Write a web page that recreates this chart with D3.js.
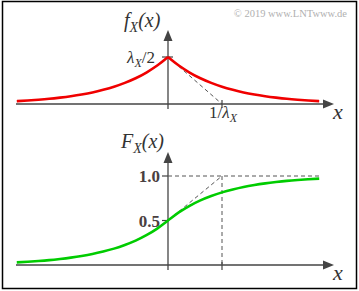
<!DOCTYPE html>
<html>
<head>
<meta charset="utf-8">
<script src="https://cdn.jsdelivr.net/npm/d3@7"></script>
<style>
  body { margin: 0; background: #fff; }
  svg { display: block; }
</style>
</head>
<body>
<svg width="359" height="291" font-family="'Liberation Serif', 'DejaVu Serif', serif"></svg>
<script>
// x in units of 1/lambda (lambda = 1)
const xValues = [-2.8, -2.6, -2.4, -2.2, -2.0, -1.8, -1.6, -1.4, -1.2, -1.0, -0.8, -0.6, -0.4, -0.2, 0,
  0.2, 0.4, 0.6, 0.8, 1.0, 1.2, 1.4, 1.6, 1.8, 2.0, 2.2, 2.4, 2.6, 2.8];
const pdfValues = [0.030, 0.037, 0.045, 0.055, 0.068, 0.083, 0.101, 0.123, 0.151, 0.184, 0.225, 0.274, 0.335, 0.409, 0.500,
  0.409, 0.335, 0.274, 0.225, 0.184, 0.151, 0.123, 0.101, 0.083, 0.068, 0.055, 0.045, 0.037, 0.030];
const cdfValues = [0.030, 0.037, 0.045, 0.055, 0.068, 0.083, 0.101, 0.123, 0.151, 0.184, 0.225, 0.274, 0.335, 0.409, 0.500,
  0.591, 0.665, 0.726, 0.775, 0.816, 0.849, 0.877, 0.899, 0.917, 0.932, 0.945, 0.955, 0.963, 0.970];
const pdfTicks = [{ v: 0.5, label: 'λ', sub: 'X', rest: '/2' }];
const cdfTicks = [{ v: 1.0, label: '1.0' }, { v: 0.5, label: '0.5' }];

const svg = d3.select('svg');
const axisColor = '#444';
const textColor = '#333';

// frame
svg.append('rect').attr('x', 2.5).attr('y', 1.5).attr('width', 354).attr('height', 287)
  .attr('fill', 'none').attr('stroke', '#000').attr('stroke-width', 1.5);

svg.append('text').attr('x', 347).attr('y', 17).attr('text-anchor', 'end')
  .attr('font-size', 10.5).attr('fill', '#b0b0b0').text('© 2019 www.LNTwww.de');

const x = d3.scaleLinear().domain([0, 1]).range([168, 222]);
const yTop = d3.scaleLinear().domain([0, 0.5]).range([104, 57]);
const yBot = d3.scaleLinear().domain([0, 1]).range([265, 176]);

const arrow = (g, x1, y1, dir) => {
  // dir: 'right' or 'up', (x1,y1) is the tip
  const pts = dir === 'right'
    ? [[x1, y1], [x1 - 11, y1 - 4.5], [x1 - 11, y1 + 4.5]]
    : [[x1, y1], [x1 - 4.5, y1 + 11], [x1 + 4.5, y1 + 11]];
  g.append('path').attr('d', 'M' + pts.join('L') + 'Z').attr('fill', axisColor);
};

const drawAxes = (y, yTipPx, yBottomPx) => {
  const g = svg.append('g');
  g.append('line').attr('x1', 16).attr('x2', 326).attr('y1', y(0)).attr('y2', y(0))
    .attr('stroke', axisColor).attr('stroke-width', 1.3);
  arrow(g, 334, y(0), 'right');
  g.append('line').attr('x1', x(0)).attr('x2', x(0)).attr('y1', yBottomPx).attr('y2', yTipPx + 8)
    .attr('stroke', axisColor).attr('stroke-width', 1.3);
  arrow(g, x(0), yTipPx, 'up');
  g.append('text').attr('x', 333).attr('y', y(0) + 15).attr('font-size', 22)
    .attr('font-style', 'italic').attr('fill', textColor).text('x');
  return g;
};

const dashed = (g, x1, y1, x2, y2) => g.append('line')
  .attr('x1', x1).attr('y1', y1).attr('x2', x2).attr('y2', y2)
  .attr('stroke', '#555').attr('stroke-width', 1).attr('stroke-dasharray', '4,3');

// ---------- top: PDF ----------
const gTop = drawAxes(yTop, 30, 109);
dashed(gTop, x(0), yTop(0.5), x(1), yTop(0));
gTop.append('line').attr('x1', x(1)).attr('x2', x(1)).attr('y1', yTop(0) - 4).attr('y2', yTop(0) + 4)
  .attr('stroke', axisColor).attr('stroke-width', 1.2);
pdfTicks.forEach(t => {
  gTop.append('line').attr('x1', x(0) - 6).attr('x2', x(0) + 5).attr('y1', yTop(t.v)).attr('y2', yTop(t.v))
    .attr('stroke', axisColor).attr('stroke-width', 1.2);
  const tx = gTop.append('text').attr('x', 155).attr('y', yTop(t.v) + 6).attr('text-anchor', 'end')
    .attr('font-size', 17).attr('fill', textColor);
  tx.append('tspan').attr('font-style', 'italic').text(t.label);
  tx.append('tspan').attr('dy', 4).attr('font-size', 12).attr('font-style', 'italic').text(t.sub);
  tx.append('tspan').attr('dy', -4).text(t.rest);
});
const lbl1 = gTop.append('text').attr('x', x(1) + 1).attr('y', 118).attr('text-anchor', 'middle')
  .attr('font-size', 17).attr('fill', textColor);
lbl1.append('tspan').text('1/');
lbl1.append('tspan').attr('font-style', 'italic').text('λ');
lbl1.append('tspan').attr('dy', 4).attr('font-size', 12).attr('font-style', 'italic').text('X');

const fl = gTop.append('text').attr('x', 124).attr('y', 27).attr('font-size', 20)
  .attr('font-style', 'italic').attr('fill', textColor);
fl.append('tspan').text('f');
fl.append('tspan').attr('dy', 5).attr('font-size', 14).text('X');
fl.append('tspan').attr('dy', -5).text('(x)');

const pts = xValues.map((v, i) => ({ x: v, p: pdfValues[i], c: cdfValues[i] }));
const linePdf = d3.line().x(d => x(d.x)).y(d => yTop(d.p)).curve(d3.curveMonotoneX);
[pts.filter(d => d.x <= 0), pts.filter(d => d.x >= 0)].forEach(seg => {
  svg.append('path').attr('d', linePdf(seg)).attr('fill', 'none')
    .attr('stroke', '#f00000').attr('stroke-width', 2.6);
});

// ---------- bottom: CDF ----------
const gBot = drawAxes(yBot, 152, 270);
dashed(gBot, x(0), yBot(1), 320, yBot(1));
dashed(gBot, x(1), yBot(1), x(1), yBot(0));
dashed(gBot, x(0), yBot(0.5), x(1), yBot(1));
gBot.append('line').attr('x1', x(1)).attr('x2', x(1)).attr('y1', yBot(0) - 3).attr('y2', yBot(0) + 5)
  .attr('stroke', axisColor).attr('stroke-width', 1.2);
cdfTicks.forEach(t => {
  gBot.append('line').attr('x1', x(0) - 6).attr('x2', x(0)).attr('y1', yBot(t.v)).attr('y2', yBot(t.v))
    .attr('stroke', axisColor).attr('stroke-width', 1.2);
  gBot.append('text').attr('x', 160).attr('y', yBot(t.v) + 6).attr('text-anchor', 'end')
    .attr('font-size', 17).attr('font-weight', 'bold').attr('fill', '#4a4040').text(t.label);
});
const Fl = gBot.append('text').attr('x', 121).attr('y', 148).attr('font-size', 20)
  .attr('font-style', 'italic').attr('fill', textColor);
Fl.append('tspan').text('F');
Fl.append('tspan').attr('dy', 5).attr('font-size', 14).text('X');
Fl.append('tspan').attr('dy', -5).text('(x)');

const lineCdf = d3.line().x(d => x(d.x)).y(d => yBot(d.c)).curve(d3.curveMonotoneX);
svg.append('path').attr('d', lineCdf(pts)).attr('fill', 'none')
  .attr('stroke', '#00cc00').attr('stroke-width', 2.6);
</script>
</body>
</html>
